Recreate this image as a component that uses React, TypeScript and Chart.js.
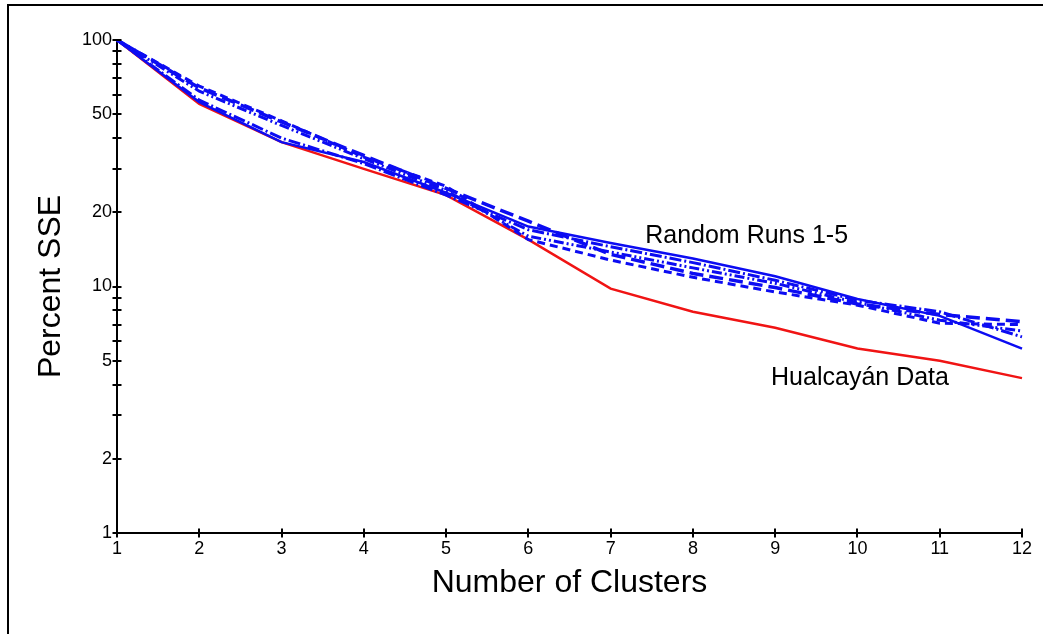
import React, { useEffect, useRef } from "react";
import { Chart, registerables } from "chart.js";

Chart.register(...registerables);

const clusters = ["1", "2", "3", "4", "5", "6", "7", "8", "9", "10", "11", "12"];

const hualcayan = [100, 55, 38.5, 30, 23.5, 15.5, 9.8, 7.9, 6.8, 5.6, 5.0, 4.25];

const run1 = [100, 56, 38.5, 32, 24, 17.5, 15.0, 13.0, 11.0, 8.9, 7.6, 5.6];
const run2 = [100, 57, 40, 31.5, 23.5, 17, 14.5, 12.5, 10.6, 8.8, 7.9, 6.25];
const run3 = [100, 64, 46.5, 34, 25, 18.4, 13.5, 11.3, 9.9, 8.5, 7.7, 7.2];
const run4 = [100, 62, 45, 33, 24.5, 16, 13.8, 11.9, 10.3, 8.6, 7.3, 6.6];
const run5 = [100, 65, 47, 33.5, 25.5, 15.5, 12.8, 10.9, 9.5, 8.4, 7.1, 7.0];

const runSeries = [run1, run2, run3, run4, run5];
const runNames = ["Run 1", "Run 2", "Run 3", "Run 4", "Run 5"];
const runDashes = [[], [12, 3, 2, 3], [14, 6], [10, 3, 2, 3, 2, 3], [8, 5]];
const runWidths = [2.5, 3, 3.5, 3, 3];

const yTickValues = [1, 2, 3, 4, 5, 6, 7, 8, 9, 10, 20, 30, 40, 50, 60, 70, 80, 90, 100];
const yTickLabels = [1, 2, 5, 10, 20, 50, 100];

const annotationTexts = ["Random Runs 1-5", "Hualcayán Data"];
const annotationX = [7.42, 8.95];
const annotationY = [16.0, 4.25];

const FONT = "'Liberation Sans', Arial, sans-serif";

const crossTicksPlugin = {
  id: "crossTicks",
  afterDraw(chart: any) {
    const ctx = chart.ctx;
    const xs = chart.scales.x;
    const ys = chart.scales.y;
    ctx.save();
    ctx.strokeStyle = "#000";
    ctx.lineWidth = 2;
    ys.ticks.forEach((t: any) => {
      const py = Math.round(ys.getPixelForValue(t.value));
      ctx.beginPath();
      ctx.moveTo(ys.right - 4.5, py);
      ctx.lineTo(ys.right + 4.5, py);
      ctx.stroke();
    });
    xs.ticks.forEach((t: any, i: number) => {
      const px = Math.round(xs.getPixelForTick(i));
      ctx.beginPath();
      ctx.moveTo(px, xs.top - 4.5);
      ctx.lineTo(px, xs.top + 4.5);
      ctx.stroke();
    });
    ctx.restore();
  },
};

const annotationPlugin = {
  id: "annotations",
  afterDatasetsDraw(chart: any) {
    const ctx = chart.ctx;
    const xs = chart.scales.x;
    const ys = chart.scales.y;
    ctx.save();
    ctx.fillStyle = "#000";
    ctx.font = `25px ${FONT}`;
    ctx.textAlign = "left";
    ctx.textBaseline = "middle";
    annotationTexts.forEach((txt, i) => {
      ctx.fillText(txt, xs.getPixelForValue(annotationX[i] - 1), ys.getPixelForValue(annotationY[i]));
    });
    ctx.restore();
  },
};

export default function App() {
  const ref = useRef<HTMLCanvasElement>(null);

  useEffect(() => {
    if (!ref.current) return;
    const datasets: any[] = runSeries.map((s, i) => ({
      label: runNames[i],
      data: s,
      borderColor: "#0c0cf2",
      borderWidth: runWidths[i],
      borderDash: runDashes[i],
      pointRadius: 0,
      tension: 0,
      fill: false,
    }));
    datasets.push({
      label: "Hualcayán Data",
      data: hualcayan,
      borderColor: "#f01414",
      borderWidth: 2.5,
      pointRadius: 0,
      tension: 0,
      fill: false,
    });

    const chart = new Chart(ref.current, {
      type: "line",
      data: { labels: clusters, datasets },
      options: {
        responsive: false,
        animation: false,
        events: [],
        layout: { padding: { left: 32, top: 40, right: 21, bottom: 32 } },
        plugins: {
          legend: { display: false },
          tooltip: { enabled: false },
          title: { display: false },
        },
        scales: {
          x: {
            type: "category",
            offset: false,
            grid: { display: false, drawTicks: false },
            border: { display: true, color: "#000", width: 2 },
            ticks: {
              color: "#000",
              font: { family: FONT, size: 18 },
              padding: 5,
              maxRotation: 0,
              autoSkip: false,
            },
            title: {
              display: true,
              text: "Number of Clusters",
              color: "#000",
              font: { family: FONT, size: 32 },
              padding: 0,
            },
            afterFit(scale: any) {
              scale.height = 69;
            },
          },
          y: {
            type: "logarithmic",
            min: 1,
            max: 100,
            grid: { display: false, drawTicks: false },
            border: { display: true, color: "#000", width: 2 },
            afterBuildTicks(scale: any) {
              scale.ticks = yTickValues.map((v) => ({ value: v }));
            },
            ticks: {
              color: "#000",
              font: { family: FONT, size: 18 },
              padding: 5,
              autoSkip: false,
              callback: (v: any) => (yTickLabels.includes(Number(v)) ? String(v) : ""),
            },
            title: {
              display: true,
              text: "Percent SSE",
              color: "#000",
              font: { family: FONT, size: 32 },
              padding: 0,
            },
            afterFit(scale: any) {
              scale.width = 85;
            },
          },
        },
      },
      plugins: [crossTicksPlugin, annotationPlugin],
    });
    return () => chart.destroy();
  }, []);

  return (
    <div style={{ position: "absolute", left: 0, top: 0, width: 1043, height: 634, background: "#fff" }}>
      <canvas ref={ref} width={1043} height={634} style={{ display: "block", width: 1043, height: 634 }} />
      <div
        style={{
          position: "absolute",
          left: 7,
          top: 4,
          width: 1036,
          height: 630,
          borderTop: "2px solid #000",
          borderLeft: "2px solid #000",
          boxSizing: "border-box",
          pointerEvents: "none",
        }}
      />
    </div>
  );
}
